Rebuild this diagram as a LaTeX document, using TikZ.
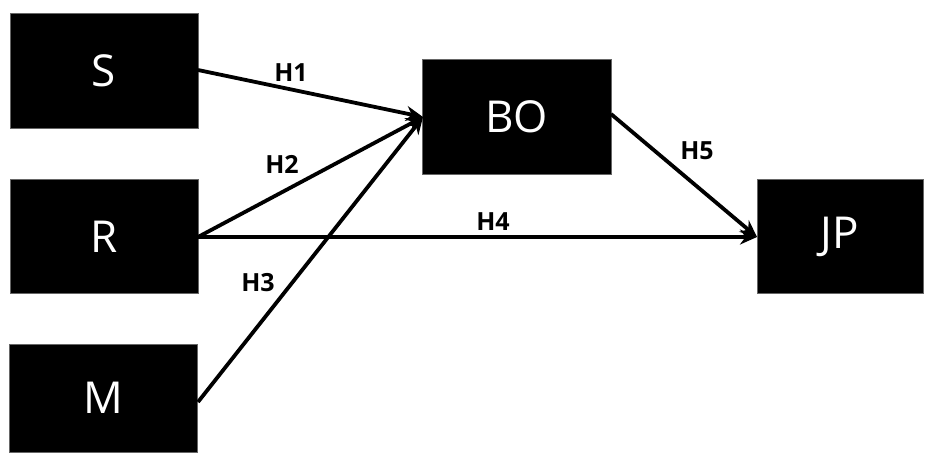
\documentclass[tikz,border=0pt]{standalone}
\usepackage{fontspec}
\setmainfont{Open Sans}
\usetikzlibrary{arrows.meta}
\begin{document}
\begin{tikzpicture}[x=1pt,y=-1pt,
  block/.style={fill=black,draw=black!60,line width=0.6pt,text=white,
    font=\fontsize{44}{44}\selectfont,inner sep=0pt},
  link/.style={line width=3.8pt,-{Stealth[length=17pt,width=15pt]}},
  hlabel/.style={font=\bfseries\fontsize{25}{25}\selectfont,inner sep=0pt}]
  \useasboundingbox (0,0) rectangle (933,453);
  % constructs
  \node[block,minimum width=188pt,minimum height=115pt] (S)  at (104,70.5) {S};
  \node[block,minimum width=188pt,minimum height=114pt] (R)  at (104,236.5) {R};
  \node[block,minimum width=188pt,minimum height=108pt] (M)  at (103,398) {M};
  \node[block,minimum width=189pt,minimum height=115pt] (BO) at (516.5,116.5) {BO};
  \node[block,minimum width=166pt,minimum height=114pt] (JP) at (840,236.5) {JP};
  % attachment points on the box edges
  \coordinate (BOin) at (423,117);
  \coordinate (Sout) at (198,70);
  \coordinate (Rout) at (198,237);
  \coordinate (Mout) at (198,402);
  \coordinate (BOout) at (611,114);
  \coordinate (JPin) at (757,237);
  % hypothesised paths
  \draw[link] (Sout) -- (BOin);
  \draw[link] (Rout) -- (BOin);
  \draw[link] (Mout) -- (BOin);
  \draw[link] (Rout) -- (JPin);
  \draw[link] (BOout) -- (JPin);
  % path labels
  \node[hlabel] (h1) at (291,73) {H1};
  \node[hlabel] (h2) at (282,164) {H2};
  \node[hlabel] (h3) at (258,283) {H3};
  \node[hlabel] (h4) at (493,222) {H4};
  \node[hlabel] (h5) at (697,151) {H5};
\end{tikzpicture}
\end{document}
